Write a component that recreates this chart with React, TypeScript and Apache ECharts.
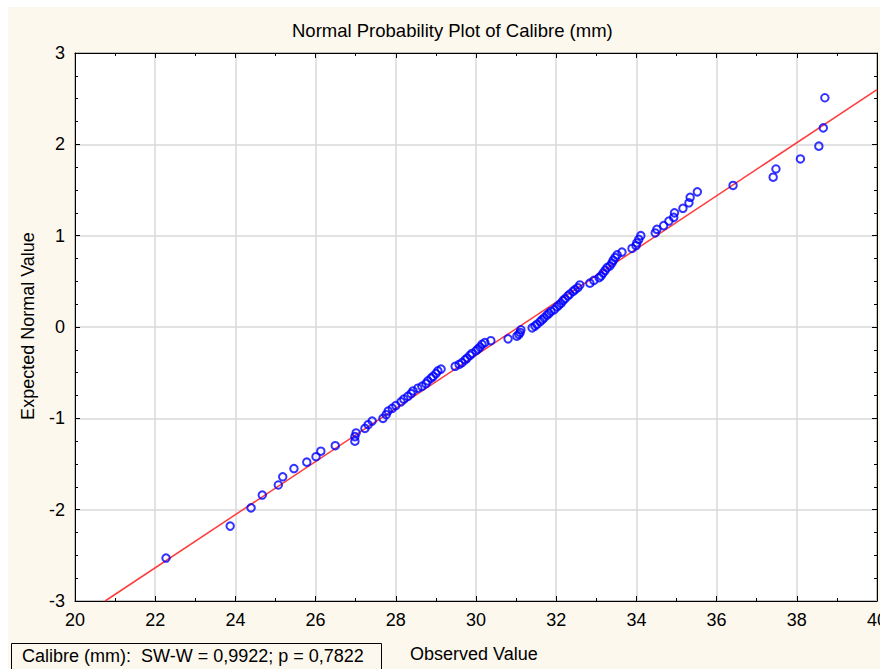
import React, { useEffect, useRef } from "react";
import * as echarts from "echarts";

const observed = [
  22.27, 23.87, 24.39, 24.67, 25.07, 25.18, 25.46, 25.78, 26.01, 26.13,
  26.49, 26.98, 26.98, 27.01, 27.23, 27.31, 27.41, 27.68, 27.76, 27.81,
  27.91, 28.0, 28.13, 28.2, 28.3, 28.38, 28.43, 28.55, 28.65, 28.75,
  28.8, 28.88, 28.93, 29.0, 29.05, 29.13, 29.48, 29.58, 29.65, 29.73,
  29.78, 29.85, 29.9, 30.0, 30.05, 30.1, 30.15, 30.22, 30.37, 30.8,
  31.02, 31.07, 31.1, 31.12, 31.4, 31.47, 31.52, 31.6, 31.65, 31.7,
  31.77, 31.82, 31.87, 31.95, 32.02, 32.07, 32.12, 32.17, 32.22, 32.29,
  32.34, 32.42, 32.47, 32.54, 32.59, 32.84, 32.94, 33.07, 33.12, 33.17,
  33.22, 33.27, 33.34, 33.39, 33.42, 33.47, 33.52, 33.64, 33.89, 33.99,
  34.01, 34.06, 34.11, 34.47, 34.51, 34.68, 34.81, 34.93, 34.95, 35.16,
  35.31, 35.34, 35.52, 36.41, 37.41, 37.48, 38.09, 38.55, 38.66, 38.7,
];

const expected = [
  -2.53, -2.18, -1.98, -1.84, -1.73, -1.64, -1.55, -1.48, -1.42, -1.36,
  -1.3, -1.25, -1.2, -1.16, -1.11, -1.07, -1.03, -1.0, -0.96, -0.92,
  -0.89, -0.86, -0.82, -0.79, -0.76, -0.73, -0.7, -0.67, -0.65, -0.62,
  -0.59, -0.56, -0.54, -0.51, -0.48, -0.46, -0.43, -0.41, -0.39, -0.36,
  -0.34, -0.31, -0.29, -0.26, -0.24, -0.22, -0.19, -0.17, -0.15, -0.13,
  -0.1, -0.08, -0.06, -0.03, -0.01, 0.01, 0.03, 0.06, 0.08, 0.1,
  0.13, 0.15, 0.17, 0.19, 0.22, 0.24, 0.26, 0.29, 0.31, 0.34,
  0.36, 0.39, 0.41, 0.43, 0.46, 0.48, 0.51, 0.54, 0.56, 0.59,
  0.62, 0.65, 0.67, 0.7, 0.73, 0.76, 0.79, 0.82, 0.86, 0.89,
  0.92, 0.96, 1.0, 1.03, 1.07, 1.11, 1.16, 1.2, 1.25, 1.3,
  1.36, 1.42, 1.48, 1.55, 1.64, 1.73, 1.84, 1.98, 2.18, 2.51,
];

const fitLineX = [20.75, 40];
const fitLineY = [-3, 2.6];

const titleText = "Normal Probability Plot of Calibre (mm)";
const xAxisTitle = "Observed Value";
const yAxisTitle = "Expected Normal Value";
const statsText = "Calibre (mm):  SW-W = 0,9922; p = 0,7822";

const FONT = "'Liberation Sans', Arial, Helvetica, sans-serif";

export default function App() {
  const ref = useRef<HTMLDivElement>(null);

  useEffect(() => {
    if (!ref.current) return;
    const chart = echarts.init(ref.current, undefined, { renderer: "svg" });

    const tickCommon = {
      axisLine: { show: true, onZero: false, lineStyle: { color: "#000", width: 1 } },
      axisTick: { show: true, inside: true, length: 5, lineStyle: { color: "#000", width: 1 } },
      minorTick: { show: true, length: 3, lineStyle: { color: "#000", width: 1 } },
    };

    const xBase = {
      type: "value",
      min: 20,
      max: 40,
      interval: 2,
      ...tickCommon,
      minorTick: { ...tickCommon.minorTick, splitNumber: 2 },
    };
    const yBase = {
      type: "value",
      min: -3,
      max: 3,
      interval: 1,
      ...tickCommon,
      minorTick: { ...tickCommon.minorTick, splitNumber: 4 },
    };

    const splitLine = { show: true, lineStyle: { color: "#d9d9d9", width: 1.5 } };
    const labelStyle = { fontSize: 18, color: "#000", fontFamily: FONT };

    chart.setOption({
      animation: false,
      backgroundColor: "#fdf8ed",
      textStyle: { fontFamily: FONT },
      grid: {
        left: 67,
        top: 46,
        width: 802,
        height: 548,
        containLabel: false,
        outerBoundsMode: "none",
        show: true,
        backgroundColor: "#ffffff",
        borderColor: "#000",
        borderWidth: 1,
      },
      xAxis: [
        {
          ...xBase,
          position: "bottom",
          splitLine,
          axisLabel: { ...labelStyle, margin: 10 },
        },
        {
          ...xBase,
          position: "top",
          splitLine: { show: false },
          axisLabel: { show: false },
        },
      ],
      yAxis: [
        {
          ...yBase,
          position: "left",
          splitLine,
          axisLabel: { ...labelStyle, margin: 10 },
        },
        {
          ...yBase,
          position: "right",
          splitLine: { show: false },
          axisLabel: { show: false },
        },
      ],
      graphic: [
        {
          type: "text",
          x: 284,
          y: 23,
          style: {
            text: titleText,
            fontSize: 18.5,
            fontFamily: FONT,
            fill: "#000",
            textAlign: "left",
            textVerticalAlign: "middle",
          },
        },
        {
          type: "text",
          x: 20,
          y: 319,
          rotation: Math.PI / 2,
          style: {
            text: yAxisTitle,
            fontSize: 18,
            fontFamily: FONT,
            fill: "#000",
            textAlign: "center",
            textVerticalAlign: "middle",
          },
        },
        {
          type: "text",
          x: 402,
          y: 647,
          style: {
            text: xAxisTitle,
            fontSize: 18,
            fontFamily: FONT,
            fill: "#000",
            textAlign: "left",
            textVerticalAlign: "middle",
          },
        },
        {
          type: "rect",
          shape: { x: 3.5, y: 636.5, width: 370, height: 40 },
          style: { fill: "rgba(0,0,0,0)", stroke: "#000", lineWidth: 1 },
        },
        {
          type: "text",
          x: 14,
          y: 649,
          style: {
            text: statsText,
            fontSize: 18,
            fontFamily: FONT,
            fill: "#000",
            textAlign: "left",
            textVerticalAlign: "middle",
          },
        },
      ],
      series: [
        {
          type: "line",
          xAxisIndex: 0,
          yAxisIndex: 0,
          data: fitLineX.map((x, i) => [x, fitLineY[i]]),
          showSymbol: false,
          symbol: "none",
          lineStyle: { color: "#ff3b3b", width: 1.5 },
          z: 2,
          silent: true,
        },
        {
          type: "scatter",
          xAxisIndex: 0,
          yAxisIndex: 0,
          data: observed.map((x, i) => [x, expected[i]]),
          symbol: "circle",
          symbolSize: 7.5,
          itemStyle: { color: "rgba(0,0,0,0)", borderColor: "#0000ff", borderWidth: 2 },
          z: 3,
        },
      ],
    });

    return () => chart.dispose();
  }, []);

  return (
    <div style={{ position: "fixed", left: 0, top: 0, width: 880, height: 669, background: "#ffffff" }}>
      <div ref={ref} style={{ position: "absolute", left: 8, top: 7, width: 872, height: 662 }} />
    </div>
  );
}
